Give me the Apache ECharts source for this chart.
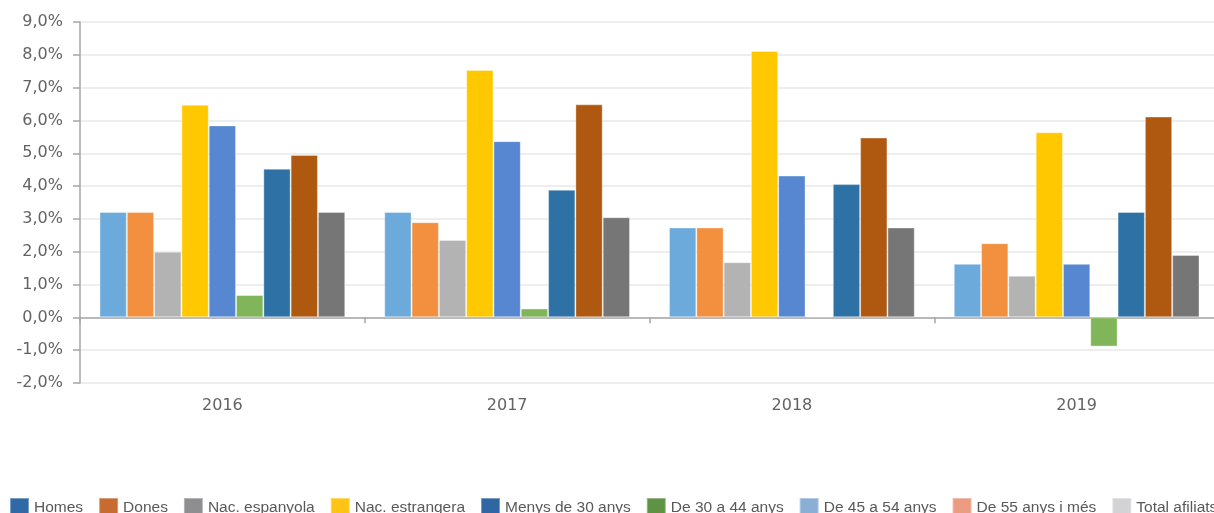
<!DOCTYPE html>
<html>
<head>
<meta charset="utf-8">
<script src="https://cdn.jsdelivr.net/npm/echarts@6/dist/echarts.min.js"></script>
<style>html,body{margin:0;padding:0;background:#fff;}#c{width:1214px;height:513px;}</style>
</head>
<body>
<div id="c"></div>
<script>
const years = ['2016', '2017', '2018', '2019'];
const seriesNames = ['Homes', 'Dones', 'Nac. espanyola', 'Nac. estrangera', 'Menys de 30 anys', 'De 30 a 44 anys', 'De 45 a 54 anys', 'De 55 anys i més', 'Total afiliats'];
const homes = [3.21, 3.21, 2.74, 1.63];
const dones = [3.21, 2.90, 2.74, 2.26];
const nacEspanyola = [2.00, 2.36, 1.68, 1.27];
const nacEstrangera = [6.48, 7.54, 8.12, 5.64];
const menys30 = [5.85, 5.37, 4.32, 1.63];
const de30a44 = [0.68, 0.27, 0.03, -0.89];
const de45a54 = [4.53, 3.89, 4.06, 3.21];
const de55 = [4.95, 6.49, 5.48, 6.12];
const total = [3.21, 3.05, 2.74, 1.90];
const seriesValues = [homes, dones, nacEspanyola, nacEstrangera, menys30, de30a44, de45a54, de55, total];
const barColors = ['#6BAADB', '#F29040', '#B3B3B3', '#FFC800', '#5687D0', '#80B55A', '#2E72A5', '#AF5810', '#767676'];
const legendColors = ['#2F6AA6', '#C66C31', '#8E8E90', '#FFC414', '#2F66A4', '#5E9343', '#89AFD5', '#EC9C80', '#D3D3D5'];

const chart = echarts.init(document.getElementById('c'), null, {renderer: 'canvas'});
const axisFont = {fontFamily: 'DejaVu Sans', fontSize: 16, color: '#636363'};
chart.setOption({
  animation: false,
  backgroundColor: '#fff',
  grid: {left: 80, top: 22, width: 1139, bottom: 130, containLabel: false, outerBoundsMode: 'none'},
  legend: {
    left: 9, top: 497, padding: 0, width: 1500,
    itemWidth: 19, itemHeight: 19, itemGap: 15,
    icon: 'rect',
    textStyle: {fontFamily: 'Liberation Sans', fontSize: 15.5, color: '#595959'},
    data: seriesNames.map((n, i) => ({name: n, itemStyle: {color: legendColors[i]}}))
  },
  xAxis: [
    {
      type: 'category', data: years, position: 'bottom',
      axisLine: {show: false, onZero: false},
      axisTick: {show: false},
      axisLabel: Object.assign({margin: 15}, axisFont)
    },
    {
      type: 'category', data: years, position: 'bottom',
      axisLine: {show: true, onZero: true, lineStyle: {color: '#A6A6A6', width: 1.5}},
      axisTick: {show: true, length: 6, interval: 0, lineStyle: {color: '#A6A6A6', width: 1.5}},
      axisLabel: {show: false}
    }
  ],
  yAxis: {
    type: 'value', min: -2, max: 9, interval: 1,
    axisLine: {show: true, lineStyle: {color: '#A6A6A6', width: 1.5}},
    axisTick: {show: true, length: 7, lineStyle: {color: '#A6A6A6', width: 1.5}},
    splitLine: {show: true, lineStyle: {color: '#E8E8E8', width: 1.5}},
    axisLabel: Object.assign({margin: 17, formatter: v => v.toFixed(1).replace('.', ',') + '%'}, axisFont)
  },
  series: seriesNames.map((n, i) => ({
    name: n, type: 'bar', xAxisIndex: 0,
    data: seriesValues[i],
    barGap: '0%', barCategoryGap: '13.7%',
    itemStyle: {color: barColors[i], borderColor: 'rgba(255,255,255,0.35)', borderWidth: 1}
  }))
});
</script>
</body>
</html>
